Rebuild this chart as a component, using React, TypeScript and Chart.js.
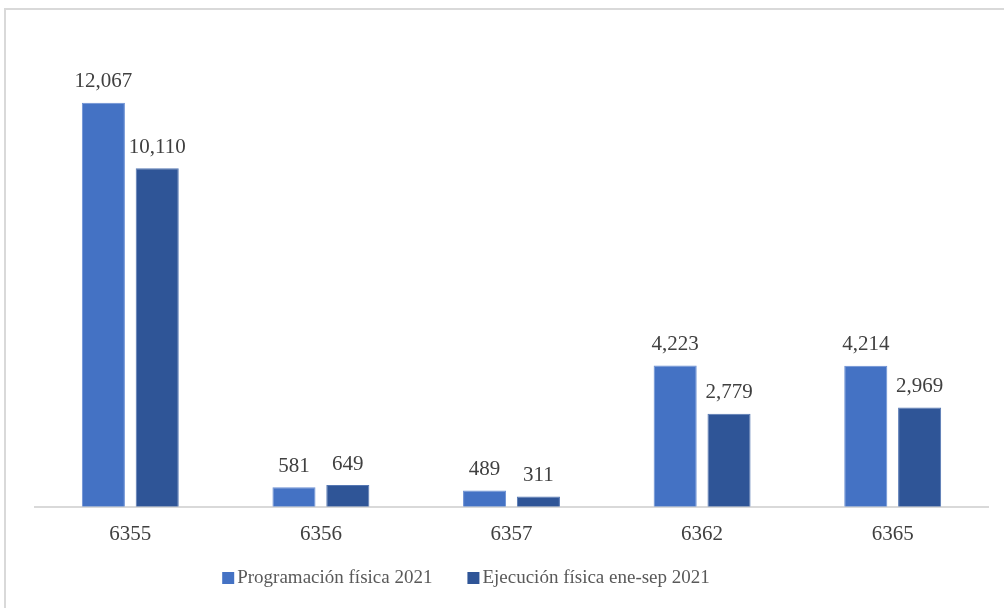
import React, { useEffect, useRef } from "react";
import { Chart, registerables } from "chart.js";

Chart.register(...registerables);

const categories = ["6355", "6356", "6357", "6362", "6365"];
const programacion = [12067, 581, 489, 4223, 4214];
const ejecucion = [10110, 649, 311, 2779, 2969];
const seriesLabels = ["Programación física 2021", "Ejecución física ene-sep 2021"];
const seriesColors = ["#4472C4", "#2F5597"];
const yMax = 14000;

const FONT = "'Liberation Serif', 'DejaVu Serif', serif";

const framePlugin = {
  id: "frame",
  beforeDraw(chart: any) {
    const ctx = chart.ctx;
    ctx.save();
    ctx.fillStyle = "#ffffff";
    ctx.fillRect(0, 0, chart.width, chart.height);
    ctx.strokeStyle = "#d9d9d9";
    ctx.lineWidth = 2;
    ctx.strokeRect(5, 9, chart.width + 20, chart.height + 20);
    ctx.restore();
  },
};

const labelPlugin = {
  id: "valueLabels",
  afterDatasetsDraw(chart: any) {
    const ctx = chart.ctx;
    ctx.save();
    ctx.font = `21px ${FONT}`;
    ctx.fillStyle = "#404040";
    ctx.textAlign = "center";
    ctx.textBaseline = "middle";
    chart.data.datasets.forEach((ds: any, i: number) => {
      const meta = chart.getDatasetMeta(i);
      meta.data.forEach((el: any, j: number) => {
        const v = ds.data[j] as number;
        ctx.fillText(v.toLocaleString("en-US"), el.x, el.y - 21);
      });
    });
    ctx.restore();
  },
};

const legendPlugin = {
  id: "customLegend",
  afterDraw(chart: any) {
    const ctx = chart.ctx;
    ctx.save();
    ctx.font = `19px ${FONT}`;
    ctx.textBaseline = "middle";
    ctx.textAlign = "left";
    const box = 12;
    const gap = 3;
    const between = 35;
    const widths = chart.data.datasets.map((ds: any) => ctx.measureText(ds.label).width);
    const total = widths.reduce((a: number, w: number) => a + box + gap + w, 0) + between * (widths.length - 1);
    const cx = 466;
    const cy = 578;
    let x = cx - total / 2;
    chart.data.datasets.forEach((ds: any, i: number) => {
      ctx.fillStyle = ds.backgroundColor;
      ctx.fillRect(x, cy - box / 2, box, box);
      x += box + gap;
      ctx.fillStyle = "#595959";
      ctx.fillText(ds.label, x, cy);
      x += widths[i] + between;
    });
    ctx.restore();
  },
};

export default function App() {
  const ref = useRef<HTMLCanvasElement | null>(null);
  useEffect(() => {
    if (!ref.current) return;
    const chart = new Chart(ref.current, {
      type: "bar",
      data: {
        labels: categories,
        datasets: [
          {
            label: seriesLabels[0],
            data: programacion,
            backgroundColor: seriesColors[0],
            borderColor: "#6a8fd3",
            borderWidth: 1,
            categoryPercentage: 0.565,
            barPercentage: 0.8,
          },
          {
            label: seriesLabels[1],
            data: ejecucion,
            backgroundColor: seriesColors[1],
            borderColor: "#5577b3",
            borderWidth: 1,
            categoryPercentage: 0.565,
            barPercentage: 0.8,
          },
        ],
      },
      options: {
        responsive: false,
        animation: false,
        layout: { padding: { left: 35, right: 16, top: 38, bottom: 54 } },
        scales: {
          x: {
            grid: { display: false },
            border: { display: true, color: "#d9d9d9", width: 2 },
            ticks: {
              color: "#404040",
              font: { family: FONT, size: 21 },
              padding: 7,
            },
          },
          y: {
            display: false,
            min: 0,
            max: yMax,
          },
        },
        plugins: {
          legend: { display: false },
          tooltip: { enabled: false },
        },
      },
      plugins: [framePlugin, labelPlugin, legendPlugin],
    });
    return () => chart.destroy();
  }, []);
  return (
    <div style={{ position: "fixed", left: 0, top: 0, width: 1004, height: 608, background: "#fff" }}>
      <canvas ref={ref} width={1004} height={608} />
    </div>
  );
}
